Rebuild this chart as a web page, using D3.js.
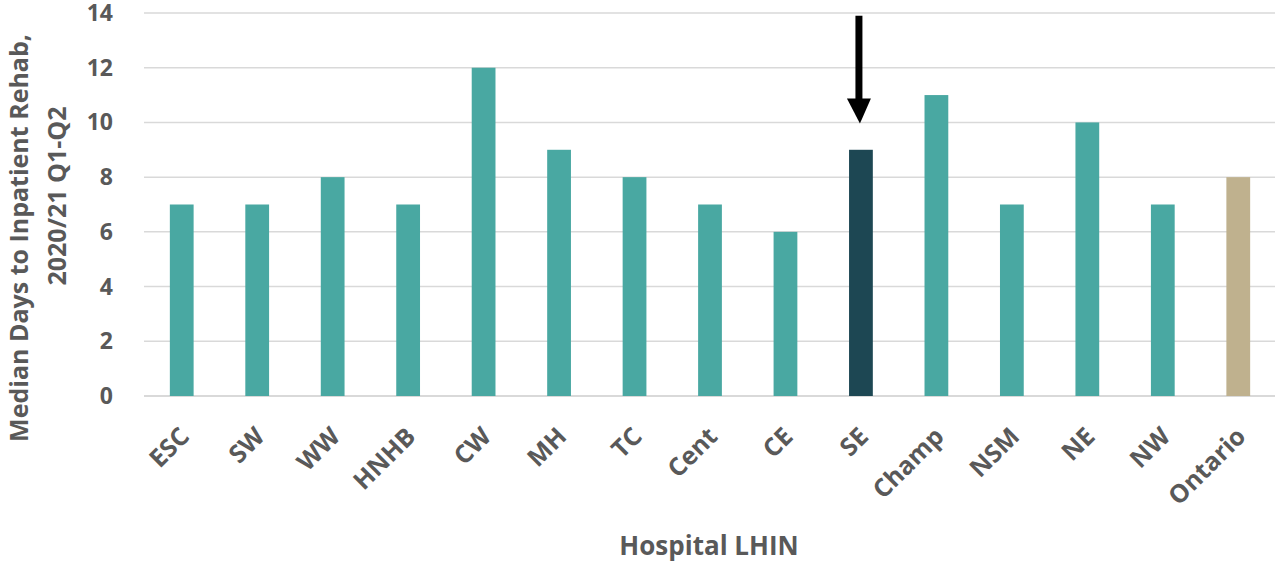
<!DOCTYPE html>
<html><head><meta charset="utf-8">
<script src="https://cdn.jsdelivr.net/npm/d3@7"></script>
<style>body{margin:0;background:#fff}svg{display:block}text{font-family:"Open Sans",sans-serif;font-weight:bold;fill:#595959}</style>
</head><body><svg id="c" width="1275" height="562"></svg>
<script>
const categories = ["ESC","SW","WW","HNHB","CW","MH","TC","Cent","CE","SE","Champ","NSM","NE","NW","Ontario"];
const values = [7,7,8,7,12,9,8,7,6,9,11,7,10,7,8];
const yTicks = [0,2,4,6,8,10,12,14];
const highlight = "SE";
const total = "Ontario";
const arrowFrom = 13.9, arrowTo = 10;

const svg = d3.select("#c");
const x = d3.scaleBand().domain(categories).range([144,1276]).paddingInner(0.685).paddingOuter(0.3425);
const y = d3.scaleLinear().domain([0,14]).range([396,13]);

// gridlines
svg.append("g").selectAll("line").data(yTicks).join("line")
  .attr("x1",144).attr("x2",1275).attr("y1",d=>y(d)).attr("y2",d=>y(d))
  .attr("stroke","#D9D9D9").attr("stroke-width",d=>d===0?2:1.5);

// y tick labels
svg.append("g").selectAll("text").data(yTicks).join("text")
  .attr("x",113).attr("y",d=>y(d)+8).attr("text-anchor","end")
  .style("font-size","23px").text(d=>d);

// bars
svg.append("g").selectAll("rect").data(categories).join("rect")
  .attr("x",d=>x(d)).attr("width",x.bandwidth())
  .attr("y",(d,i)=>y(values[i])).attr("height",(d,i)=>y(0)-y(values[i]))
  .attr("fill",d=>d===highlight?"#1D4753":d===total?"#BFB18E":"#49A8A2");

// x labels
svg.append("g").selectAll("text").data(categories).join("text")
  .attr("text-anchor","end")
  .attr("transform",d=>`translate(${x(d)+x.bandwidth()/2+9},${438}) rotate(-45)`)
  .style("font-size","25px").text(d=>d);

// axis titles
svg.append("text").attr("x",709).attr("y",555).attr("text-anchor","middle").style("font-size","26px").text("Hospital LHIN");
svg.append("text").attr("transform","translate(28,238) rotate(-90)").attr("text-anchor","middle").style("font-size","25px").text("Median Days to Inpatient Rehab,");
svg.append("text").attr("transform","translate(66,196) rotate(-90)").attr("text-anchor","middle").style("font-size","25px").text("2020/21 Q1-Q2");

// arrow
const ax = x(highlight)+x.bandwidth()/2 - 2;
svg.append("line").attr("x1",ax).attr("x2",ax).attr("y1",y(arrowFrom)).attr("y2",y(arrowTo)-20)
  .attr("stroke","#000").attr("stroke-width",7);
svg.append("path").attr("d",`M${ax-12},${y(arrowTo)-24}L${ax+12},${y(arrowTo)-24}L${ax+1},${y(arrowTo)+1}Z`).attr("fill","#000");
</script></body></html>
